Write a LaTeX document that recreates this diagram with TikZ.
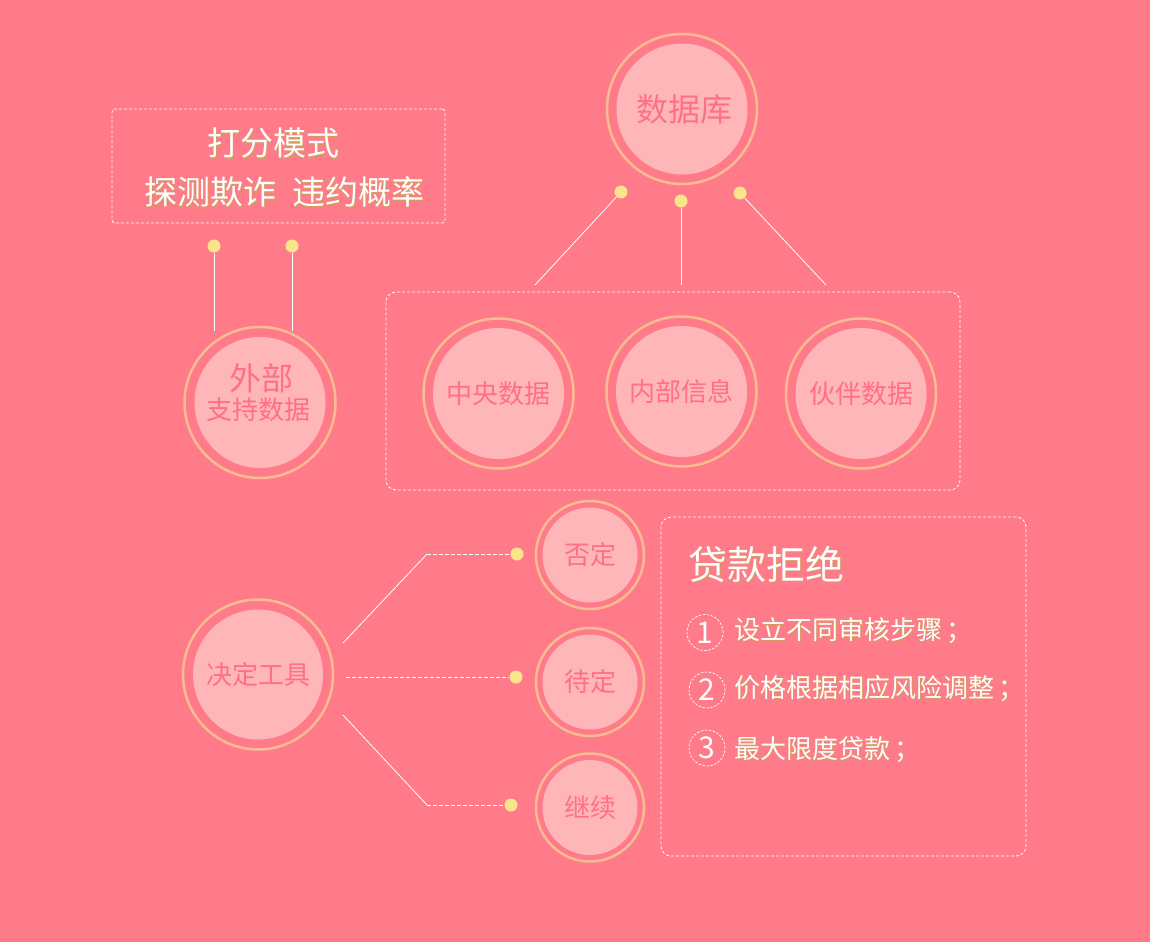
\documentclass[tikz,border=0pt]{standalone}
\usepackage{fontspec}
\setmainfont{Noto Sans CJK SC}
\definecolor{bgpink}{HTML}{FF7B8A}
\definecolor{innerpink}{HTML}{FFB6B9}
\definecolor{ringpeach}{HTML}{F8BC92}
\definecolor{dotyellow}{HTML}{FBE58C}
\definecolor{txtpink}{HTML}{FF6F88}
\definecolor{shadebrown}{HTML}{D9995F}
\newcommand{\fs}[1]{\fontsize{#1}{#1}\selectfont}
\newcommand{\shd}[1]{\makebox[0pt][l]{\hspace{1.5pt}\raisebox{-1.5pt}{\color{shadebrown}#1}}#1}
\tikzset{
  bub/.style={circle,fill=innerpink,inner sep=0pt,minimum size=#1,text=txtpink},
  ringline/.style={draw=ringpeach,line width=2.5pt},
  dot/.style={circle,fill=dotyellow,inner sep=0pt,minimum size=13pt},
  conn/.style={draw=white,line width=0.8pt},
  dconn/.style={conn,dash pattern=on 4pt off 2pt},
  dbox/.style={draw=white,line width=0.8pt,dash pattern=on 3pt off 2pt,rounded corners=#1,inner sep=0pt},
  dbox/.default=10pt,
  num/.style={circle,draw=white,line width=0.7pt,dash pattern=on 2.5pt off 1.5pt,minimum size=36pt,inner sep=0pt,text=white,font=\fs{30}},
  item/.style={anchor=west,inner sep=0pt,text=white,font=\fs{26}}
}

\begin{document}
\begin{tikzpicture}[x=1pt,y=-1pt]
    \useasboundingbox (0,0) rectangle (1150,942);
    \fill[bgpink] (0,0) rectangle (1150,942);

    \node[dbox=3pt,minimum width=333pt,minimum height=114pt] (score) at (278.5,166) {};
    \node[dbox,minimum width=574pt,minimum height=198pt] (src) at (673,391) {};
    \node[dbox,minimum width=365pt,minimum height=339pt] (rej) at (843.5,686.5) {};

    \node[text=white,font=\fs{33}] (scoret) at (273,144) {\shd{打分模式}};
    \node[text=white,font=\fs{33}] (scoreb) at (284,193) {\shd{探测欺诈}\hspace{16pt}\shd{违约概率}};

    \node[bub=131pt,font=\fs{32}] (db) at (682,109) {\hspace{5pt}数据库};
    \node[bub=131pt,font=\fs{26}] (cen) at (498.5,393.5) {中央数据};
    \node[bub=131pt,font=\fs{26}] (inn) at (681.5,391.5) {内部信息};
    \node[bub=131pt,font=\fs{26}] (par) at (861,393.5) {伙伴数据};
    \node[bub=131pt] (ext) at (260,402.5) {};
    \node[text=txtpink,font=\fs{32}] (extup) at (261,378) {外部};
    \node[text=txtpink,font=\fs{26}] (extlo) at (258,410) {支持数据};
    \node[bub=130pt,font=\fs{26}] (dec) at (258,674.5) {决定工具};
    \node[bub=95pt,font=\fs{26}] (neg) at (590,555) {否定};
    \node[bub=95pt,font=\fs{26}] (pend) at (590,682) {待定};
    \node[bub=95pt,font=\fs{26}] (cont) at (590,807.5) {继续};

    \foreach \n/\r in {db/75,cen/75,inn/75,par/75,ext/75.5,dec/75}
        \draw[ringline] (\n.center) circle[radius=\r];
    \foreach \n in {neg,pend,cont}
        \draw[ringline] (\n.center) circle[radius=54];

    \coordinate (srcl) at (535,285);
    \coordinate (srcm) at (681,285);
    \coordinate (srcr) at (826,285);
    \coordinate (extl) at (214,331);
    \coordinate (extr) at (292,331);
    \coordinate (decu) at (343,643);
    \coordinate (decm) at (346,677);
    \coordinate (decd) at (343,715);
    \coordinate (ku) at (427,554);
    \coordinate (kd) at (427,805);

    \node[dot] (dbl) at (621,192) {};
    \node[dot] (dbm) at (681,201) {};
    \node[dot] (dbr) at (740,193) {};
    \node[dot] (scl) at (214,246) {};
    \node[dot] (scr) at (292,246) {};
    \node[dot] (negd) at (517,554) {};
    \node[dot] (pendd) at (516,677) {};
    \node[dot] (contd) at (511,805) {};

    \draw[conn] (dbl) -- (srcl);
    \draw[conn] (dbm) -- (srcm);
    \draw[conn] (dbr) -- (srcr);
    \draw[conn] (scl) -- (extl);
    \draw[conn] (scr) -- (extr);
    \draw[conn] (decu) -- (ku);
    \draw[dconn] (ku) -- (negd);
    \draw[dconn] (decm) -- (pendd);
    \draw[conn] (decd) -- (kd);
    \draw[dconn] (kd) -- (contd);

    \node[text=white,font=\fs{39},anchor=west,inner sep=0pt] (rejt) at (688,565) {\shd{贷款拒绝}};
    \node[num] (n1) at (705,632.5) {1};
    \node[num] (n2) at (707,690) {2};
    \node[num] (n3) at (707,748) {3};
    \node[item] (i1) at (734,631) {\shd{设立不同审核步骤\hspace{4pt}；}};
    \node[item] (i2) at (734,689) {\shd{价格根据相应风险调整\hspace{4pt}；}};
    \node[item] (i3) at (734,750) {\shd{最大限度贷款\hspace{4pt}；}};
\end{tikzpicture}
\end{document}
